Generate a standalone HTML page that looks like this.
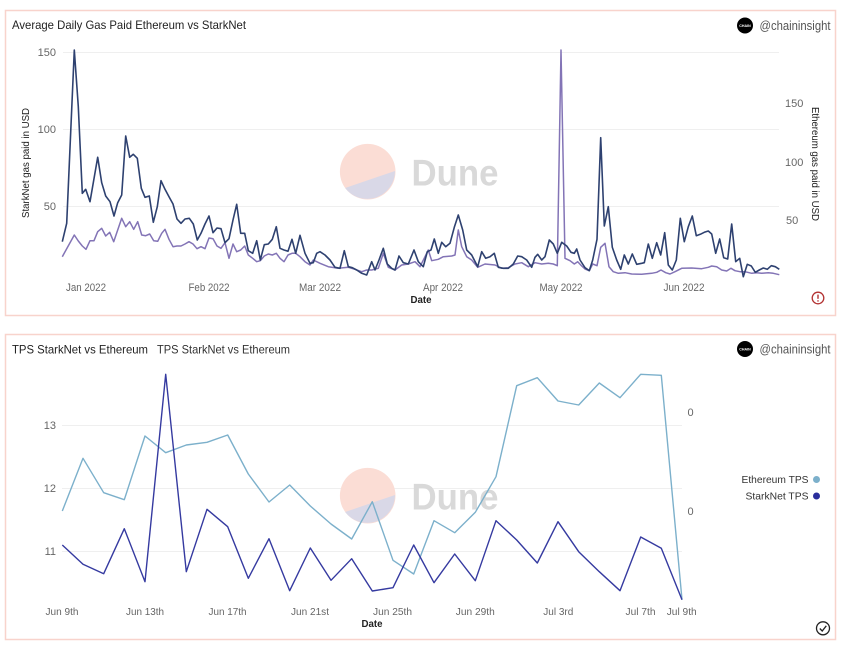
<!DOCTYPE html>
<html><head><meta charset="utf-8"><style>
html,body{margin:0;padding:0;background:#fff;}
svg{display:block;font-family:"Liberation Sans",sans-serif;}
</style></head><body>
<svg width="841" height="646" viewBox="0 0 841 646" xmlns="http://www.w3.org/2000/svg">
<rect x="0" y="0" width="841" height="646" fill="#fff"/>
<!-- panels -->
<rect x="5.5" y="10.5" width="830" height="305" fill="#fff" stroke="#f8d3cc" stroke-width="1.5"/>
<rect x="5.5" y="334.5" width="830" height="305" fill="#fff" stroke="#f8d3cc" stroke-width="1.5"/>

<!-- ===== TOP PANEL ===== -->
<text x="12" y="29" font-size="12" fill="#222" textLength="234" lengthAdjust="spacingAndGlyphs">Average Daily Gas Paid Ethereum vs StarkNet</text>
<circle cx="745" cy="25.5" r="8" fill="#000"/>
<text x="745" y="27" font-size="3.6" fill="#fff" text-anchor="middle" font-weight="bold">CHAIN</text>
<text x="759.5" y="30" font-size="12.5" fill="#555" textLength="71" lengthAdjust="spacingAndGlyphs">@chaininsight</text>

<!-- gridlines -->
<g stroke="#efefef" stroke-width="1">
<line x1="63" y1="52.5" x2="779" y2="52.5"/>
<line x1="63" y1="129.5" x2="779" y2="129.5"/>
<line x1="63" y1="206.5" x2="779" y2="206.5"/>
</g>

<!-- watermark -->
<circle cx="367.7" cy="171.7" r="27.8" fill="#fbddd5"/>
<path d="M345.1 188 A27.8 27.8 0 0 0 395 171 Z" fill="#d9d8e7"/>
<text x="411.5" y="185.5" font-size="37" font-weight="bold" fill="#d9d9d9" textLength="87" lengthAdjust="spacingAndGlyphs">Dune</text>

<!-- left axis -->
<g font-size="11" fill="#666" text-anchor="end">
<text x="56" y="56">150</text>
<text x="56" y="133">100</text>
<text x="56" y="210">50</text>
</g>
<text transform="translate(29,163) rotate(-90)" font-size="10.5" fill="#222" text-anchor="middle" textLength="110" lengthAdjust="spacingAndGlyphs">StarkNet gas paid in USD</text>
<!-- right axis -->
<g font-size="11" fill="#666">
<text x="785" y="107">150</text>
<text x="785" y="166">100</text>
<text x="786" y="224">50</text>
</g>
<text transform="translate(812,164) rotate(90)" font-size="10.5" fill="#222" text-anchor="middle" textLength="114" lengthAdjust="spacingAndGlyphs">Ethereum gas paid in USD</text>

<!-- x labels -->
<g font-size="11" fill="#666" text-anchor="middle">
<text x="86" y="291" textLength="40" lengthAdjust="spacingAndGlyphs">Jan 2022</text>
<text x="209" y="291" textLength="41" lengthAdjust="spacingAndGlyphs">Feb 2022</text>
<text x="320" y="291" textLength="42" lengthAdjust="spacingAndGlyphs">Mar 2022</text>
<text x="443" y="291" textLength="40" lengthAdjust="spacingAndGlyphs">Apr 2022</text>
<text x="561" y="291" textLength="43" lengthAdjust="spacingAndGlyphs">May 2022</text>
<text x="684" y="291" textLength="41" lengthAdjust="spacingAndGlyphs">Jun 2022</text>
</g>
<text x="421" y="303" font-size="10" font-weight="bold" fill="#222" text-anchor="middle" textLength="21" lengthAdjust="spacingAndGlyphs">Date</text>

<!-- purple line -->
<polyline fill="none" stroke="#8374b6" stroke-width="1.5" stroke-linejoin="round" points="62.3,256.7 74.3,235 78.3,241 82.3,246 86,249.3 90,240.7 94,240.7 97.7,231.7 101.7,228.3 105.7,236 109.7,232.3 113.7,241.7 121.7,218.3 125.7,226.7 129.7,221.7 133.7,229.3 137.7,221.7 141.7,235 145.7,235.7 149.7,234 153.7,240.7 157.7,241.3 161.7,233.3 165,229.3 169,239.3 173,246.7 177,246 181,246 185,244 189,241.7 193,244 197,248.7 201,246.7 205,248.7 209,238 213,238.7 217,246 221,248.3 225,242.7 229,258.3 233,244 236.7,251.7 240.7,250 244.7,246 248.3,255 252.7,258.3 256.7,261.7 260.3,260.7 264.3,256 268.3,254 272.3,255 276.3,253.3 280,258.3 284,261.7 288,255 292,253.3 295.7,253.3 300,256.7 305,261.7 310,265 313.3,260 320,263.3 328.3,266.7 338.3,268.3 348.3,267.3 355,269.3 361.7,271.7 366.7,270 371.7,270 378.3,268.3 383.3,253.3 388.3,267.3 395,270 401.7,265 408.3,264 415,261.7 420,266.7 425,256.7 428.3,250 431.7,260.7 438.3,259.3 443.3,256.7 451.7,256 455,255 458.3,230 461.7,246.7 466.7,256.7 471.7,260 477.7,267.3 485,264 495,265 501.7,268.3 508.3,267.7 515,264 521.7,262.7 528.3,266.7 535,262.7 541.7,264 548.3,263.3 553.3,264 557.3,265.7 561,50 565,258.3 570,260.7 574.3,264 577.7,261.7 581.7,266 585,269 589.3,270.7 592.7,264 597,265.7 600.7,247.3 605,243.3 609,266.7 613.3,271.7 618.3,273.3 625,272.7 631.7,274 641.7,274.3 651.7,273.3 656.7,272.3 661,270 665.7,272.7 670,274 675,271.7 681.7,268.3 691.7,268 701.7,268.7 708.3,267.3 711.7,266 716.7,266.7 721.7,270 726.7,271 731,268.3 735,270.7 740,271.7 745,271.7 751.7,273.3 756.7,272.7 761.7,273.3 768.3,272.7 773.3,273.3 779.3,274.7"/>

<!-- navy line -->
<polyline fill="none" stroke="#2e4170" stroke-width="1.6" stroke-linejoin="round" points="62.3,241.7 66.7,223.3 74.3,50 78.3,106.7 82.3,193.3 85.7,189.3 90,201.7 97.7,157.3 101.7,182.7 105.7,196 110,201.7 114,216 117.7,202.7 121.7,195 125.7,136 129.7,157.3 133.3,154.3 137.3,158.3 141.3,188.3 145,197.3 149.3,196 153.3,222.3 157.3,206.7 161,180.7 165,189.3 169,196.7 173,204 177,219 181,223.3 185,219 189.3,218.3 193.3,224 197.3,240 201,233.3 205,224 209,216 213,232.7 217,228 221,228.7 225,242.7 229,238.7 233,220 236.7,204.3 240.7,233.3 244.7,233.3 248.3,250.7 252.7,253.3 256.7,240.7 260.3,260 264.3,244.7 268.3,244 272.3,239.3 276.3,226.7 280,248.3 284,250 288,251.3 292,239.3 295.7,253.3 300,235.3 305,253.3 310,263.3 313.3,262.7 316.7,253.3 320,251.7 325,255 330,260 335,267.3 340,268.3 344.3,250.7 348.3,266.7 352.3,267.7 356.7,270 361.7,273.3 366.7,275 371.7,261.7 375,270 379,260 383.3,248.3 387.3,264 391.7,268.3 395,270 399,256 403.3,262.7 408.3,264 414,250 418.3,261.7 423.3,266.7 427.3,251.7 431,250 434.3,239 438.3,253.3 441.7,242.3 445.7,246.7 450,243.3 454.3,227.3 458.3,215 462.7,230 466.7,250 471.7,255 477.7,266.7 481.7,251.7 485.7,258.3 490,256.7 494.3,253.3 498.3,267.3 503.3,268.3 508.3,268.3 513.3,264 517.7,256 521.7,256.7 526.7,260 531.7,267.3 535,257.3 537.7,254.3 541.7,260 545,256.7 549.3,240 553.3,244 557.3,253.3 561.7,242.3 566.7,246 571,252.3 574.3,253.3 576.7,249 580,260 585,267.7 589.3,270.7 592.7,260 597,239.3 600.7,137.7 604.3,226 608.3,206.7 612.3,247.3 616.7,260 620.7,269.3 624.3,255 628.3,264 632.3,254 636.7,264.3 641.7,263.3 644.3,262.7 648.3,244 652.3,258.3 656.7,242.7 660.7,255 664.7,232.7 668.3,265 672.3,270 676.3,260 680.3,218.3 684.3,241.7 688.3,226.7 692.3,216 696.3,235.7 700.3,234.3 704.3,232.3 708.3,231 711.7,234 715.7,253.3 719.7,239 723.7,257.7 727.7,259 731.7,224 735.7,261.7 739.7,258.3 743.3,276.7 747.3,264.3 751.3,266 755.3,272.3 759.3,270 763.3,268 767.3,269.3 771.3,265.7 775.3,266.7 779.3,269.3"/>

<!-- warning icon -->
<circle cx="818" cy="298" r="5.8" fill="none" stroke="#b33232" stroke-width="1.3"/>
<line x1="818" y1="294.6" x2="818" y2="298.8" stroke="#b33232" stroke-width="1.4"/>
<circle cx="818" cy="300.9" r="0.8" fill="#b33232"/>

<!-- ===== BOTTOM PANEL ===== -->
<text x="12" y="353.5" font-size="12" fill="#222" textLength="136" lengthAdjust="spacingAndGlyphs">TPS StarkNet vs Ethereum</text>
<text x="157" y="353.5" font-size="12" fill="#333" textLength="133" lengthAdjust="spacingAndGlyphs">TPS StarkNet vs Ethereum</text>
<circle cx="745" cy="349" r="8" fill="#000"/>
<text x="745" y="350.5" font-size="3.6" fill="#fff" text-anchor="middle" font-weight="bold">CHAIN</text>
<text x="759.5" y="353.5" font-size="12.5" fill="#555" textLength="71" lengthAdjust="spacingAndGlyphs">@chaininsight</text>

<g stroke="#efefef" stroke-width="1">
<line x1="62" y1="425.5" x2="682" y2="425.5"/>
<line x1="62" y1="488.5" x2="682" y2="488.5"/>
<line x1="62" y1="551.5" x2="682" y2="551.5"/>
</g>

<circle cx="367.7" cy="495.7" r="27.8" fill="#fbddd5"/>
<path d="M345.1 512 A27.8 27.8 0 0 0 395 495 Z" fill="#d9d8e7"/>
<text x="411.5" y="509.5" font-size="37" font-weight="bold" fill="#d9d9d9" textLength="87" lengthAdjust="spacingAndGlyphs">Dune</text>

<g font-size="11" fill="#666" text-anchor="end">
<text x="56" y="429">13</text>
<text x="56" y="492">12</text>
<text x="56" y="555">11</text>
</g>
<g font-size="11" fill="#666">
<text x="687.5" y="416">0</text>
<text x="687.5" y="515">0</text>
</g>

<g font-size="10.5" fill="#666" text-anchor="middle">
<text x="62" y="615" textLength="33" lengthAdjust="spacingAndGlyphs">Jun 9th</text>
<text x="145" y="615" textLength="38" lengthAdjust="spacingAndGlyphs">Jun 13th</text>
<text x="227.5" y="615" textLength="38" lengthAdjust="spacingAndGlyphs">Jun 17th</text>
<text x="310" y="615" textLength="38" lengthAdjust="spacingAndGlyphs">Jun 21st</text>
<text x="392.5" y="615" textLength="39" lengthAdjust="spacingAndGlyphs">Jun 25th</text>
<text x="475.3" y="615" textLength="39" lengthAdjust="spacingAndGlyphs">Jun 29th</text>
<text x="558.3" y="615" textLength="30" lengthAdjust="spacingAndGlyphs">Jul 3rd</text>
<text x="640.5" y="615" textLength="30" lengthAdjust="spacingAndGlyphs">Jul 7th</text>
<text x="681.7" y="615" textLength="30" lengthAdjust="spacingAndGlyphs">Jul 9th</text>
</g>
<text x="372" y="627" font-size="10" font-weight="bold" fill="#222" text-anchor="middle" textLength="21" lengthAdjust="spacingAndGlyphs">Date</text>

<!-- Ethereum TPS -->
<polyline fill="none" stroke="#7cb0cb" stroke-width="1.4" stroke-linejoin="round" points="62.3,511 83,458.3 103.7,492.7 124.3,499.7 145,436 165.7,452.7 186.3,445 207,442.3 227.7,435 248.3,474 269,502 289.7,485 310.3,506 331,524 351.7,539 372.3,501.7 393,560.3 413.7,574 434,520.7 454.7,532.7 475.3,512.3 496,476.7 516.7,385.7 537.3,377.7 558,401 578.7,405 599.3,383 620,397.7 640.7,374.3 661.3,375.3 682,599.7"/>
<!-- StarkNet TPS -->
<polyline fill="none" stroke="#353aa0" stroke-width="1.4" stroke-linejoin="round" points="62.3,545 83,564.3 103.7,573.7 124.3,528.7 145,581.7 165.7,374.3 186.3,571.7 207,509.3 227.7,526.7 248.3,578.3 269,538.7 289.7,590.7 310.3,548 331,580.3 351.7,558.7 372.3,591 393,587.7 413.7,545 434,582.7 454.7,554 475.3,580.7 496,520.7 516.7,540 537.3,563 558,521.7 578.7,551.7 599.3,571.7 620,590.7 640.7,537 661.3,548.3 682,599.7"/>

<!-- legend -->
<text x="808.5" y="483" font-size="10.5" fill="#333" text-anchor="end" textLength="67" lengthAdjust="spacingAndGlyphs">Ethereum TPS</text>
<circle cx="816.5" cy="479.5" r="3.5" fill="#7cb0cb"/>
<text x="808.5" y="499.5" font-size="10.5" fill="#333" text-anchor="end" textLength="63" lengthAdjust="spacingAndGlyphs">StarkNet TPS</text>
<circle cx="816.5" cy="496" r="3.5" fill="#2a2e9c"/>

<!-- check icon -->
<circle cx="823" cy="628.3" r="6.5" fill="none" stroke="#222" stroke-width="1.3"/>
<polyline points="819.8,628.5 822.2,631 826.3,625.8" fill="none" stroke="#222" stroke-width="1.3"/>
</svg>
</body></html>
